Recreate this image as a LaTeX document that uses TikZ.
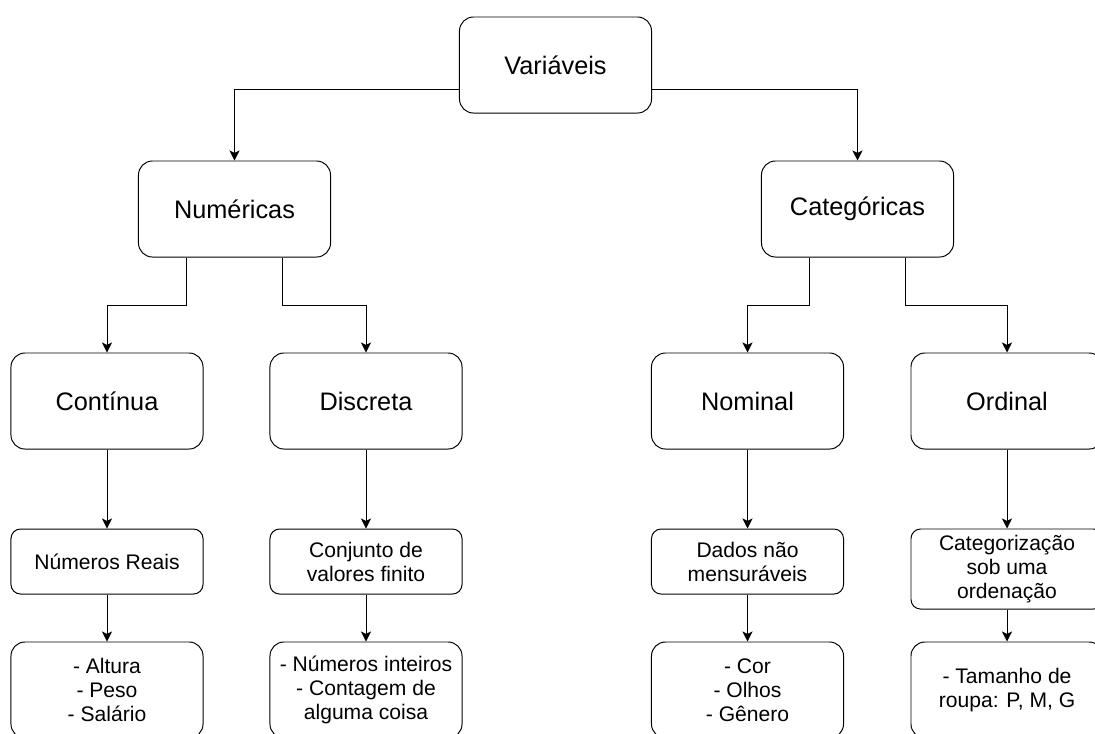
\documentclass[tikz,border=0pt]{standalone}
\usepackage{fontspec}
\setmainfont{Liberation Sans}
\usetikzlibrary{arrows.meta}

\begin{document}
\begin{tikzpicture}[x=0.025cm, y=-0.025cm,
		box/.style={draw, line width=0.7pt, rounded corners=0.35cm, minimum width=4.8cm, minimum height=2.4cm, inner sep=0pt, align=center, font=\fontsize{18}{21}\selectfont},
		smallbox/.style={draw, line width=0.7pt, rounded corners=0.24cm, minimum width=4.8cm, minimum height=1.625cm, inner sep=0pt, align=center, font=\fontsize{15}{17}\selectfont},
		listbox/.style={smallbox, minimum height=2.4cm, rounded corners=0.35cm},
		link/.style={line width=0.7pt, -{Stealth[length=0.25cm, width=0.25cm, inset=0.06cm]}}]
			%%%%% START %%%%%
			
			\useasboundingbox (0, 0) rectangle (1095, 733);
			\clip (0, 0) rectangle (1095, 733);
			
			\node[box] (var) at (555.5, 65) {Variáveis};
			
			\node[box] (num) at (234.5, 209) {Numéricas};
			\node[box] (cat) at (857.5, 209) {Categóricas};
			
			\node[box] (cont) at (107, 401) {Contínua};
			\node[box] (disc) at (366, 401) {Discreta};
			\node[box] (nom) at (747.5, 401) {Nominal};
			\node[box] (ord) at (1007, 401) {Ordinal};
			
			\node[smallbox] (reais) at (107, 561.5) {Números Reais};
			\node[smallbox] (conj) at (366, 561.5) {Conjunto de\\valores finito};
			\node[smallbox] (dados) at (747.5, 561.5) {Dados não\\mensuráveis};
			\node[smallbox, minimum height=2cm] (categ) at (1007, 569) {Categorização\\sob uma\\ordenação};
			
			\node[listbox] (ex1) at (107, 690) {- Altura\\- Peso\\- Salário};
			\node[listbox] (ex2) at (366, 690) {- Números inteiros\\- Contagem de\\alguma coisa};
			\node[listbox] (ex3) at (747.5, 690) {- Cor\\- Olhos\\- Gênero};
			\node[listbox] (ex4) at (1007, 690) {- Tamanho de\\roupa: P, M, G};
			
			\draw[link] ([yshift=-0.6cm]var.west) -| (num.north);
			\draw[link] ([yshift=-0.6cm]var.east) -| (cat.north);
			
			\draw[link] ([xshift=-1.2cm]num.south) -- ++(0, 48) -| (cont.north);
			\draw[link] ([xshift=1.2cm]num.south) -- ++(0, 48) -| (disc.north);
			\draw[link] ([xshift=-1.2cm]cat.south) -- ++(0, 48) -| (nom.north);
			\draw[link] ([xshift=1.2cm]cat.south) -- ++(0, 48) -| (ord.north);
			
			\draw[link] (cont) -- (reais);
			\draw[link] (disc) -- (conj);
			\draw[link] (nom) -- (dados);
			\draw[link] (ord) -- (categ);
			
			\draw[link] (reais) -- (ex1);
			\draw[link] (conj) -- (ex2);
			\draw[link] (dados) -- (ex3);
			\draw[link] (categ) -- (ex4);
			
			%%%%% END %%%%%
\end{tikzpicture}
\end{document}
